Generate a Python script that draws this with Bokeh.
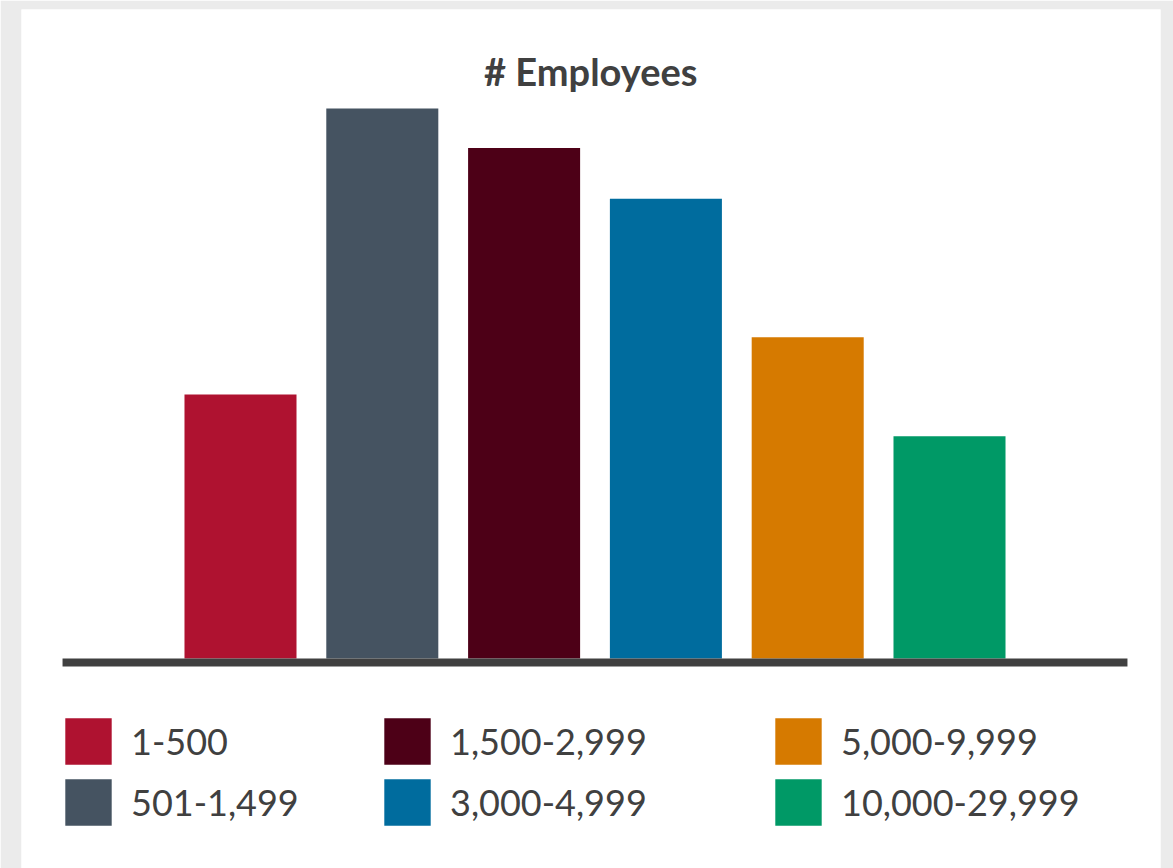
from bokeh.plotting import figure
from bokeh.models import ColumnDataSource, Range1d, Label, Legend, LegendItem
from bokeh.embed import file_html
from bokeh.resources import INLINE

# ---- data ----
categories = ["1-500", "501-1,499", "1,500-2,999", "3,000-4,999", "5,000-9,999", "10,000-29,999"]
values = [12.0, 25.0, 23.2, 20.9, 14.6, 10.1]
colors = ["#AF1230", "#455361", "#4D0017", "#006C9E", "#D67A00", "#009966"]
title_text = "# Employees"

FONT = "Lato"
TEXT_COLOR = "#404040"

n = len(categories)
xs = list(range(n))
src = ColumnDataSource(dict(x=xs, top=values, color=colors, label=categories))

p = figure(width=1173, height=868, output_backend="svg", toolbar_location=None,
           x_range=Range1d(-1.5444, 6.488), y_range=Range1d(-9.545, 29.5),
           x_axis_type=None, y_axis_type=None,
           min_border_left=21, min_border_right=13, min_border_top=9, min_border_bottom=0)
p.grid.visible = False
p.outline_line_color = None
p.background_fill_color = "white"
p.border_fill_color = "#ebebeb"

r = p.vbar(x="x", top="top", bottom=0, width=0.79, fill_color="color",
           line_color=None, source=src)

# baseline
base_y = -4 / 22
p.segment(x0=-1.255, y0=base_y, x1=n - 1 + 1.255, y1=base_y,
          line_width=8, line_color=TEXT_COLOR, line_cap="butt")

# title
p.add_layout(Label(x=2.47, y=26.7, text=title_text, text_align="center",
                   text_baseline="middle", text_font=FONT, text_font_style="bold",
                   text_font_size="38px", text_color=TEXT_COLOR))

# legend: three columns of two rows
col_x = [38, 357, 748]
for c in range(3):
    items = [LegendItem(label=categories[i], renderers=[r], index=i)
             for i in (2 * c, 2 * c + 1)]
    leg = Legend(items=items, location=(col_x[c], 37), orientation="vertical",
                 glyph_width=58, glyph_height=58, label_height=58, spacing=3,
                 label_standoff=14, padding=0, margin=0,
                 border_line_color=None, background_fill_alpha=0,
                 label_text_font=FONT, label_text_font_size="36px",
                 label_text_color=TEXT_COLOR)
    p.add_layout(leg)

open("out.html", "w").write(file_html(p, INLINE))
